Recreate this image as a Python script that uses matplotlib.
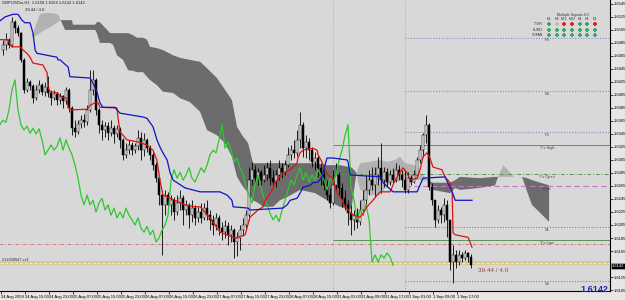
import numpy as np
import matplotlib
matplotlib.use('Agg')
import matplotlib.pyplot as plt
import matplotlib.transforms as mtransforms

plt.rcParams['font.family'] = ['Liberation Sans', 'DejaVu Sans']

# GBPUSDm H1, 24 Aug 2009 07:00 .. 1 Sep 2009 21:00 (one bar per hour)
first_open = 1.6474
close = [1.6482, 1.6490, 1.6482, 1.6517, 1.6508, 1.6500, 1.6459, 1.6413, 1.6425, 1.6419,
         1.6400, 1.6413, 1.6420, 1.6410, 1.6417, 1.6408, 1.6400, 1.6406, 1.6397, 1.6403,
         1.6396, 1.6413, 1.6385, 1.6354, 1.6348, 1.6360, 1.6366, 1.6363, 1.6382, 1.6413,
         1.6428, 1.6382, 1.6359, 1.6351, 1.6357, 1.6346, 1.6354, 1.6345, 1.6353, 1.6336,
         1.6313, 1.6320, 1.6328, 1.6320, 1.6326, 1.6339, 1.6320, 1.6336, 1.6323, 1.6313,
         1.6297, 1.6277, 1.6251, 1.6236, 1.6251, 1.6236, 1.6243, 1.6225, 1.6239, 1.6246,
         1.6228, 1.6236, 1.6220, 1.6231, 1.6216, 1.6225, 1.6216, 1.6231, 1.6220, 1.6213,
         1.6205, 1.6216, 1.6200, 1.6194, 1.6203, 1.6190, 1.6197, 1.6179, 1.6185, 1.6197,
         1.6205, 1.6220, 1.6274, 1.6290, 1.6277, 1.6286, 1.6274, 1.6282, 1.6293, 1.6277,
         1.6271, 1.6282, 1.6293, 1.6286, 1.6297, 1.6313, 1.6320, 1.6316, 1.6336, 1.6359,
         1.6323, 1.6333, 1.6320, 1.6302, 1.6308, 1.6293, 1.6282, 1.6266, 1.6251, 1.6239,
         1.6266, 1.6282, 1.6262, 1.6246, 1.6236, 1.6223, 1.6213, 1.6220, 1.6210, 1.6228,
         1.6243, 1.6259, 1.6274, 1.6266, 1.6282, 1.6293, 1.6274, 1.6286, 1.6271, 1.6282,
         1.6274, 1.6290, 1.6282, 1.6274, 1.6259, 1.6277, 1.6271, 1.6282, 1.6305, 1.6320,
         1.6343, 1.6359, 1.6263, 1.6243, 1.6213, 1.6228, 1.6220, 1.6236, 1.6213, 1.6148,
         1.6159, 1.6148, 1.6159, 1.6154, 1.6162, 1.6156, 1.6143]
high = [1.6490, 1.6500, 1.6493, 1.6525, 1.6520, 1.6513, 1.6502, 1.6462, 1.6431, 1.6428,
        1.6422, 1.6420, 1.6428, 1.6423, 1.6425, 1.6434, 1.6413, 1.6413, 1.6410, 1.6408,
        1.6405, 1.6417, 1.6416, 1.6388, 1.6366, 1.6366, 1.6374, 1.6376, 1.6389, 1.6443,
        1.6443, 1.6431, 1.6385, 1.6366, 1.6363, 1.6363, 1.6366, 1.6359, 1.6359, 1.6356,
        1.6339, 1.6331, 1.6336, 1.6333, 1.6331, 1.6351, 1.6348, 1.6346, 1.6339, 1.6328,
        1.6317, 1.6302, 1.6282, 1.6259, 1.6259, 1.6256, 1.6251, 1.6248, 1.6251, 1.6259,
        1.6251, 1.6243, 1.6239, 1.6243, 1.6236, 1.6233, 1.6239, 1.6239, 1.6243, 1.6228,
        1.6220, 1.6223, 1.6220, 1.6210, 1.6213, 1.6210, 1.6205, 1.6200, 1.6194, 1.6205,
        1.6216, 1.6228, 1.6294, 1.6302, 1.6297, 1.6293, 1.6290, 1.6297, 1.6302, 1.6305,
        1.6290, 1.6290, 1.6305, 1.6300, 1.6305, 1.6325, 1.6328, 1.6336, 1.6351, 1.6379,
        1.6363, 1.6343, 1.6339, 1.6325, 1.6317, 1.6313, 1.6300, 1.6290, 1.6274, 1.6262,
        1.6290, 1.6300, 1.6286, 1.6270, 1.6259, 1.6243, 1.6236, 1.6228, 1.6231, 1.6243,
        1.6259, 1.6282, 1.6290, 1.6294, 1.6294, 1.6310, 1.6331, 1.6294, 1.6293, 1.6290,
        1.6293, 1.6300, 1.6297, 1.6290, 1.6290, 1.6286, 1.6282, 1.6290, 1.6310, 1.6328,
        1.6346, 1.6374, 1.6362, 1.6270, 1.6243, 1.6236, 1.6233, 1.6246, 1.6243, 1.6213,
        1.6174, 1.6167, 1.6167, 1.6163, 1.6167, 1.6163, 1.6160]
low = [1.6466, 1.6474, 1.6477, 1.6479, 1.6500, 1.6496, 1.6456, 1.6408, 1.6410, 1.6413,
       1.6393, 1.6397, 1.6408, 1.6405, 1.6403, 1.6402, 1.6389, 1.6397, 1.6389, 1.6391,
       1.6385, 1.6391, 1.6379, 1.6343, 1.6340, 1.6345, 1.6354, 1.6356, 1.6359, 1.6379,
       1.6405, 1.6374, 1.6346, 1.6336, 1.6340, 1.6336, 1.6342, 1.6331, 1.6340, 1.6323,
       1.6305, 1.6308, 1.6314, 1.6313, 1.6316, 1.6320, 1.6305, 1.6311, 1.6317, 1.6305,
       1.6290, 1.6271, 1.6236, 1.6159, 1.6220, 1.6225, 1.6220, 1.6213, 1.6220, 1.6228,
       1.6205, 1.6220, 1.6200, 1.6210, 1.6205, 1.6210, 1.6208, 1.6213, 1.6213, 1.6197,
       1.6190, 1.6197, 1.6190, 1.6182, 1.6185, 1.6174, 1.6179, 1.6154, 1.6157, 1.6167,
       1.6188, 1.6197, 1.6213, 1.6266, 1.6271, 1.6266, 1.6266, 1.6271, 1.6274, 1.6266,
       1.6263, 1.6263, 1.6274, 1.6277, 1.6282, 1.6294, 1.6305, 1.6308, 1.6311, 1.6323,
       1.6310, 1.6308, 1.6305, 1.6294, 1.6290, 1.6279, 1.6266, 1.6259, 1.6243, 1.6231,
       1.6236, 1.6259, 1.6251, 1.6233, 1.6228, 1.6205, 1.6190, 1.6197, 1.6200, 1.6205,
       1.6220, 1.6236, 1.6251, 1.6259, 1.6248, 1.6266, 1.6254, 1.6263, 1.6263, 1.6266,
       1.6270, 1.6271, 1.6274, 1.6263, 1.6254, 1.6254, 1.6266, 1.6270, 1.6277, 1.6300,
       1.6310, 1.6331, 1.6259, 1.6236, 1.6202, 1.6208, 1.6208, 1.6210, 1.6186, 1.6136,
       1.6116, 1.6139, 1.6143, 1.6148, 1.6151, 1.6148, 1.6139]

time_labels = ['24 Aug 2009', '24 Aug 15:00', '24 Aug 23:00', '25 Aug 07:00', '25 Aug 15:00',
               '25 Aug 23:00', '26 Aug 07:00', '26 Aug 15:00', '26 Aug 23:00', '27 Aug 07:00',
               '27 Aug 15:00', '27 Aug 23:00', '28 Aug 07:00', '28 Aug 15:00', '31 Aug 01:00',
               '31 Aug 09:00', '31 Aug 17:00', '1 Sep 01:00', '1 Sep 09:00', '1 Sep 17:00']

# ichimoku lines (bar index, price)
tenkan_x = [-1, 1.7, 2.3, 3, 5.7, 6.7, 8, 9, 10, 13.3, 14.7, 15, 15.7, 18.3, 19, 21.3, 21.7, 22.3,
            28, 29, 30.7, 31.7, 32.3, 38, 38.3, 39, 40, 41.3, 44.7, 48, 50, 51.3, 52.3, 53.3,
            57.3, 60.7, 64, 65.7, 66.7, 69, 72.3, 77.3, 80.7, 82.3, 85, 86.7, 87.3, 88.3, 89.7,
            90.7, 92.3, 94, 95.7, 98, 98.3, 99, 100, 103.3, 104.7, 105, 106.3, 107.3, 108.3,
            109.7, 110.7, 111.7, 113, 114, 115, 116.7, 119, 120, 121.3, 123.3, 124.7, 125.7,
            129, 130.7, 132.3, 133.3, 134.7, 135.7, 138, 139, 140, 141.3, 142.3, 143.3, 146.3,
            147.3, 149, 149.7, 150, 150.7, 155, 156.3]
tenkan = [1.6490, 1.6490, 1.6483, 1.6479, 1.6479, 1.6474, 1.6469, 1.6463, 1.6454, 1.6451,
          1.6439, 1.6416, 1.6410, 1.6408, 1.6402, 1.6400, 1.6386, 1.6382, 1.6383, 1.6389,
          1.6393, 1.6393, 1.6386, 1.6385, 1.6371, 1.6348, 1.6343, 1.6336, 1.6333, 1.6328,
          1.6320, 1.6305, 1.6274, 1.6251, 1.6243, 1.6236, 1.6233, 1.6233, 1.6228, 1.6216,
          1.6194, 1.6185, 1.6190, 1.6217, 1.6228, 1.6233, 1.6243, 1.6248, 1.6259, 1.6271,
          1.6279, 1.6286, 1.6290, 1.6300, 1.6308, 1.6316, 1.6320, 1.6323, 1.6320, 1.6313,
          1.6302, 1.6290, 1.6282, 1.6277, 1.6263, 1.6251, 1.6243, 1.6233, 1.6228, 1.6220,
          1.6217, 1.6223, 1.6233, 1.6243, 1.6251, 1.6256, 1.6256, 1.6274, 1.6286, 1.6293,
          1.6285, 1.6274, 1.6277, 1.6290, 1.6310, 1.6316, 1.6308, 1.6294, 1.6290, 1.6279,
          1.6270, 1.6254, 1.6193, 1.6190, 1.6186, 1.6171]
kijun_x = [-1, 0.7, 3.3, 5, 6.3, 7.3, 9, 10, 10.7, 11.3, 18, 18.3, 19, 21.7, 22.3, 29, 30, 31.3,
           32.3, 33.3, 37.3, 38, 39, 46.7, 48, 50, 51.3, 52.3, 53.3, 54.7, 55.7, 56.7, 60.7,
           65.7, 72.3, 74.7, 76.3, 76.7, 81.7, 82.3, 93.3, 94.7, 95.7, 98, 99, 100, 102.3,
           103.3, 105, 106.3, 106.7, 107.3, 108, 110, 114.7, 115, 115.7, 125.7, 126.7, 130,
           138, 140, 147.3, 149.7, 150.7, 156.3]
kijun = [1.6519, 1.6525, 1.6529, 1.6529, 1.6520, 1.6516, 1.6516, 1.6500, 1.6474, 1.6469,
         1.6463, 1.6459, 1.6459, 1.6448, 1.6433, 1.6431, 1.6423, 1.6410, 1.6393, 1.6386,
         1.6386, 1.6382, 1.6377, 1.6371, 1.6369, 1.6356, 1.6336, 1.6325, 1.6316, 1.6305,
         1.6285, 1.6274, 1.6262, 1.6256, 1.6256, 1.6251, 1.6243, 1.6233, 1.6231, 1.6228,
         1.6231, 1.6236, 1.6243, 1.6246, 1.6254, 1.6263, 1.6266, 1.6270, 1.6271, 1.6279,
         1.6286, 1.6297, 1.6308, 1.6308, 1.6305, 1.6302, 1.6282, 1.6279, 1.6270, 1.6256,
         1.6256, 1.6277, 1.6279, 1.6256, 1.6243, 1.6243]
chikou_shift = 26

kumo_x = [9.7, 11, 12.3, 14, 16.3, 18.3, 19.3, 20.7, 23, 23.3, 30.7, 31.3, 32.3, 35.7, 36.7, 38,
          40, 41.7, 43.3, 44.7, 46.7, 48, 49, 51.3, 53.3, 56.7, 59, 62.3, 65.7, 68, 71.3, 74,
          76.3, 78, 79.7, 81.7, 83.3, 85, 86.7, 90, 92.3, 94.7, 99, 104, 108, 112.3, 115.7,
          116.3, 117.7, 119, 122.3, 125.7, 128, 130.7, 132.3, 134, 137.3, 139, 141.7, 143.3,
          149, 150.7, 152.3, 159, 164, 165, 166.7, 169, 170.3, 173, 174.7, 176.3, 182]
span_a = [1.6496, 1.6513, 1.6529, 1.6531, 1.6531, 1.6529, 1.6519, 1.6505, 1.6505, 1.6505,
          1.6505, 1.6500, 1.6485, 1.6485, 1.6482, 1.6466, 1.6459, 1.6443, 1.6442, 1.6440,
          1.6440, 1.6433, 1.6428, 1.6420, 1.6410, 1.6408, 1.6400, 1.6394, 1.6379, 1.6351,
          1.6343, 1.6331, 1.6310, 1.6279, 1.6266, 1.6254, 1.6243, 1.6239, 1.6233, 1.6233,
          1.6243, 1.6248, 1.6259, 1.6254, 1.6243, 1.6233, 1.6228, 1.6236, 1.6282, 1.6300,
          1.6302, 1.6305, 1.6302, 1.6305, 1.6310, 1.6300, 1.6297, 1.6286, 1.6274, 1.6259,
          1.6254, 1.6262, 1.6259, 1.6262, 1.6266, 1.6279, 1.6297, 1.6286, 1.6279, 1.6279,
          1.6256, 1.6236, 1.6210]
span_b = [1.6494, 1.6496, 1.6500, 1.6505, 1.6511, 1.6517, 1.6520, 1.6520, 1.6520, 1.6513,
          1.6513, 1.6517, 1.6517, 1.6500, 1.6500, 1.6500, 1.6500, 1.6500, 1.6497, 1.6493,
          1.6493, 1.6490, 1.6479, 1.6477, 1.6474, 1.6466, 1.6462, 1.6459, 1.6456, 1.6446,
          1.6431, 1.6413, 1.6397, 1.6356, 1.6343, 1.6331, 1.6300, 1.6300, 1.6300, 1.6300,
          1.6300, 1.6300, 1.6300, 1.6300, 1.6297, 1.6297, 1.6294, 1.6293, 1.6286, 1.6259,
          1.6251, 1.6251, 1.6266, 1.6271, 1.6274, 1.6274, 1.6274, 1.6274, 1.6273, 1.6270,
          1.6270, 1.6274, 1.6279, 1.6277, 1.6279, 1.6279, 1.6279, 1.6279, 1.6279, 1.6279,
          1.6277, 1.6274, 1.6266]

# daily levels
pivot_names = ['R3', 'R2', 'R1', 'Pivot', 'S1', 'S2']
pivot_values = [1.6493, 1.6411, 1.6348, 1.6265, 1.6202, 1.6119]
yday_names = ["Y's High", "Y's Open", "Y's Low"]
yday_values = [1.6328, 1.6283, 1.6182]
stop_level = 1.6176
sell_price = 1.6147
bid = 1.6142

# signal panel (M1 .. D1)
sig_cols = ['M1', 'M5', 'M15', 'M30', 'H1', 'H4', 'D1']
sig_rows = ['TTrIFI', 'KUMO', 'CDFAN']
sig_vals = [[1, 0, -1, -1, 1, 1, -1],
            [1, 1, 1, 1, 1, 1, 1],
            [1, 1, 1, 1, 1, 1, 1]]


W, H = 625, 300
def fpos(x, y):
    # pixel position -> figure fraction
    return x / W, 1 - y / H

fig = plt.figure(figsize=(W / 100, H / 100), dpi=100, facecolor='#e6e6e6')
ax = fig.add_axes([0, 9 / H, 610 / W, 291 / H])
ax.set_facecolor('#d8d8d8')

n = len(close)
idx = np.arange(n)
cl = np.array(close)
op = np.array([first_open] + close[:-1])
hi = np.array(high)
lo = np.array(low)

# cloud
kx = np.array(kumo_x); sa = np.array(span_a); sb = np.array(span_b)
ax.fill_between(kx, sa, sb, where=sa >= sb, interpolate=True, color='#b2b2b2', lw=0, zorder=1)
ax.fill_between(kx, sa, sb, where=sa < sb, interpolate=True, color='#6c6c6c', lw=0, zorder=1)

x_end = 202.3
# separators
for xs in [110, 134]:
    ax.axvline(xs, color='#9c9c9c', lw=0.6, ls=(0, (1, 2)), zorder=1.5)

# yesterday's levels
yday_styles = ['-', (0, (4, 2, 1, 2)), '-']
for name, val, ls in zip(yday_names, yday_values, yday_styles):
    ax.hlines(val, 110, x_end, color='#5b935b', lw=0.7, ls=ls, zorder=1.6)
    ax.text(181.3, val - 0.00012, name, fontsize=2.8, color='#404040', ha='center', va='top', zorder=6)

piv_colors = ['#8890c4', '#8890c4', '#8890c4', '#c678c6', '#c86a6a', '#c86a6a']
piv_styles = [(0, (1, 1.5)), (0, (1, 1.5)), (0, (1, 1.5)), (0, (5, 3)), (0, (1, 1.5)), (0, (1, 1.5))]
for name, val, c, ls in zip(pivot_names, pivot_values, piv_colors, piv_styles):
    ax.hlines(val, 134, x_end, color=c, lw=0.8, ls=ls, zorder=1.6)
    ax.text(181.3, val - 0.00012, name, fontsize=2.8, color='#404040', ha='center', va='top', zorder=6)

ax.axhline(stop_level, color='#cc6a6a', lw=0.6, ls=(0, (4, 2, 1, 2)), zorder=1.6)
ax.axhline(sell_price, color='#d6c98e', lw=2.6, zorder=1.7)
ax.axhline(sell_price, color='#f2ecce', lw=0.7, ls=(0, (3, 2)), zorder=1.8)
ax.text(-0.3, sell_price + 0.00018, '#12938947 sell', fontsize=2.8, color='#303030', va='bottom', ha='left', zorder=6)

# candles
ax.vlines(idx, lo, hi, color='black', lw=0.6, zorder=3)
up = cl >= op
ax.bar(idx[up], (cl - op)[up], bottom=op[up], width=0.62, color='#f4f4f4', edgecolor='black', lw=0.35, zorder=4)
ax.bar(idx[~up], (op - cl)[~up], bottom=cl[~up], width=0.62, color='black', edgecolor='black', lw=0.35, zorder=4)

# ichimoku lines
ax.plot(idx - chikou_shift, cl, color='#2fc72f', lw=0.9, zorder=5)
ax.plot(tenkan_x, tenkan, color='#e01212', lw=0.9, zorder=5)
ax.plot(kijun_x, kijun, color='#1212c4', lw=0.9, zorder=5)

ax.text(158.3, 1.61357, '39.44 / 4.0', fontsize=4.6, color='#a04040', va='center', ha='left', zorder=6)

ax.set_xlim(-1, x_end)
ax.set_ylim(1.61035, 1.6551)

yt = np.round(np.arange(1.6105, 1.6546, 0.002), 4)
ax.yaxis.tick_right()
ax.set_yticks(yt)
# the label under the bid marker is hidden, as in the terminal
ax.set_yticklabels(['' if abs(v - bid) < 0.0008 else '%.4f' % v for v in yt])
ax.set_xticks([8 * k - 0.6 for k in range(len(time_labels))])
ax.set_xticklabels(time_labels, ha='left')
ax.tick_params(axis='both', labelsize=3.0, length=2, width=0.5, pad=1, colors='black')
for s in ['left', 'top']:
    ax.spines[s].set_visible(False)
for s in ['right', 'bottom']:
    ax.spines[s].set_linewidth(0.8)

trans = mtransforms.blended_transform_factory(ax.transAxes, ax.transData)
ax.text(1.003, bid, '%.4f' % bid, transform=trans, fontsize=3.0, color='white', va='center', ha='left',
        bbox=dict(boxstyle='square,pad=0.25', fc='black', ec='#f09a20', lw=0.6), zorder=7, clip_on=False)

fig.text(*fpos(608, 289), '%.4f' % bid, fontsize=6.5, fontweight='bold', color='#2424a8', ha='right', va='center')

# header text
fig.text(*fpos(2, 1), 'GBPUSDm,H1  1.6158 1.6164 1.6142 1.6142', fontsize=3.0, color='#202020', va='top')
fig.text(*fpos(25, 8), '39.44 / 4.0', fontsize=3.0, color='#202020', va='top')

# signal panel
fig.text(*fpos(573, 15), 'Multiple Signals 4.0', fontsize=2.6, color='#303030', ha='center', va='center')
col_x = [549, 557, 564, 572, 580, 587, 595]
row_y = [24, 30, 35]
for cx, name in zip(col_x, sig_cols):
    fig.text(*fpos(cx, 19.5), name, fontsize=2.4, color='#303030', ha='center', va='center')
sig_colors = {1: '#3aa870', 0: '#bdbdbd', -1: '#e02020'}
for ry, name, vals in zip(row_y, sig_rows, sig_vals):
    fig.text(*fpos(543, ry), name, fontsize=2.4, color='#303030', ha='right', va='center')
    for cx, v in zip(col_x, vals):
        fx, fy = fpos(cx, ry)
        ax.scatter([fx], [fy], transform=fig.transFigure, marker='P', s=5, color=sig_colors[v],
                   lw=0, zorder=8, clip_on=False)

fig.savefig('out.png', dpi=100, facecolor=fig.get_facecolor())
